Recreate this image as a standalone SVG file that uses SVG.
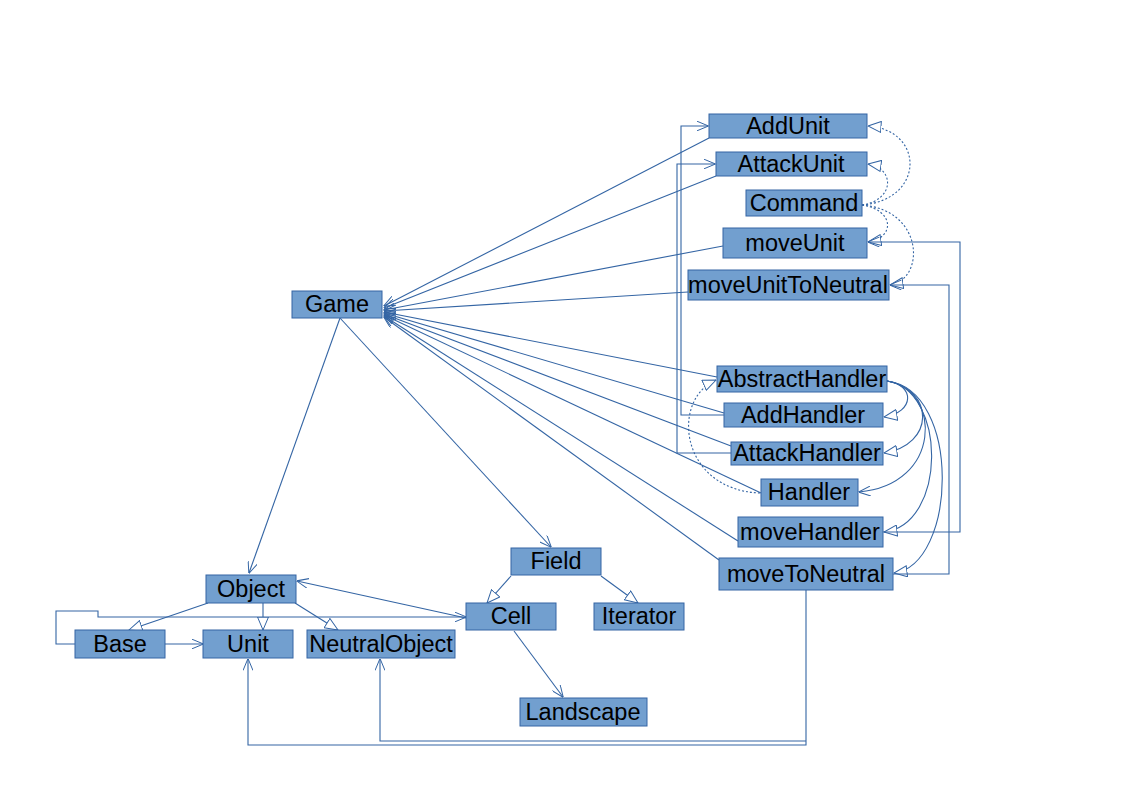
<svg xmlns="http://www.w3.org/2000/svg" width="1123" height="794" viewBox="0 0 1123 794">
<style>
.n rect{fill:#729fcf;stroke:#3465a4;stroke-width:1}
.n text{font-family:"Liberation Sans",Arial,sans-serif;font-size:23.5px;fill:#000;text-anchor:middle}
#edges path{fill:none;stroke:#3465a4;stroke-width:1.1}
#edges .d{stroke-dasharray:2,2}
#edges .a{marker-end:url(#open)}
#edges .t{marker-end:url(#tri)}
</style>
<defs>
<marker id="open" viewBox="0 0 12 10" refX="11.5" refY="5" markerWidth="12" markerHeight="10" markerUnits="userSpaceOnUse" orient="auto">
<path d="M0,0 L12,5 L0,10" fill="none" stroke="#3465a4" stroke-width="1"/>
</marker>
<marker id="tri" viewBox="0 0 14 12" refX="13.5" refY="6" markerWidth="14" markerHeight="12" markerUnits="userSpaceOnUse" orient="auto">
<path d="M0.5,0.5 L13.5,6 L0.5,11.5 Z" fill="#fff" stroke="#3465a4" stroke-width="1"/>
</marker>
</defs>
<rect width="1123" height="794" fill="#fff"/>
<g id="edges">
<path class="a" d="M709,138 L384,306"/>
<path class="a" d="M716,176 L384,308"/>
<path class="a" d="M723,246 L384,310"/>
<path class="a" d="M688,292 L384,311"/>
<path class="a" d="M717,377 L384,312"/>
<path class="a" d="M724,413 L384,313"/>
<path class="a" d="M731,446 L384,314"/>
<path class="a" d="M761,493 L384,315"/>
<path class="a" d="M738,541 L384,316"/>
<path class="a" d="M719,560 L384,317"/>
<path class="a" d="M340,318 L249,573"/>
<path class="a" d="M340,318 L551,547"/>
<path class="d t" d="M862,205 C925,200 925,130 868,126"/>
<path class="d t" d="M862,205 C895,200 895,168 868,164"/>
<path class="d t" d="M862,205 C895,210 895,238 868,242"/>
<path class="d t" d="M862,205 C925,210 925,280 890,285"/>
<path class="t" d="M887,381 C915,385 915,412 884,417"/>
<path class="t" d="M887,381 C935,390 935,445 884,453"/>
<path class="a" d="M887,381 C942,390 942,485 859,492"/>
<path class="t" d="M887,381 C947,390 947,525 884,532"/>
<path class="t" d="M887,381 C962,390 957,565 894,573"/>
<path class="d t" d="M760,493 C680,490 670,400 716,380"/>
<path class="a" d="M724,415 H681 V126 H708"/>
<path class="a" d="M731,453 H677 V164 H715"/>
<path class="a" d="M883,532 H960 V242 H868"/>
<path class="a" d="M893,574 H949 V285 H890"/>
<path class="a" d="M806,590 V745 H248 V659"/>
<path class="a" d="M806,741 H380 V659"/>
<path class="t" d="M208,603 L129,630"/>
<path class="t" d="M263,603 V630"/>
<path class="t" d="M295,603 L338,630"/>
<path class="a" d="M466,618 L297,581"/>
<path class="a" d="M75,644 H56 V611 H98 V617 H466"/>
<path class="a" d="M165,644 H203"/>
<path class="t" d="M511,576 L487,603"/>
<path class="t" d="M601,576 L638,603"/>
<path class="a" d="M514,631 L563,697"/>
</g>
<g id="AddUnit" class="n"><rect x="709" y="114" width="158" height="24"/><text x="788" y="134">AddUnit</text></g>
<g id="AttackUnit" class="n"><rect x="716" y="152" width="151" height="24"/><text x="791" y="172">AttackUnit</text></g>
<g id="Command" class="n"><rect x="746" y="190" width="116" height="26"/><text x="804" y="211">Command</text></g>
<g id="moveUnit" class="n"><rect x="723" y="228" width="144" height="30"/><text x="795" y="251">moveUnit</text></g>
<g id="moveUnitToNeutral" class="n"><rect x="688" y="270" width="201" height="30"/><text x="788" y="293">moveUnitToNeutral</text></g>
<g id="Game" class="n"><rect x="292" y="291" width="90" height="27"/><text x="337" y="312">Game</text></g>
<g id="AbstractHandler" class="n"><rect x="717" y="366" width="170" height="26"/><text x="802" y="387">AbstractHandler</text></g>
<g id="AddHandler" class="n"><rect x="724" y="403" width="159" height="24"/><text x="803" y="423">AddHandler</text></g>
<g id="AttackHandler" class="n"><rect x="731" y="442" width="152" height="23"/><text x="807" y="461">AttackHandler</text></g>
<g id="Handler" class="n"><rect x="761" y="479" width="97" height="27"/><text x="809" y="500">Handler</text></g>
<g id="moveHandler" class="n"><rect x="738" y="517" width="145" height="30"/><text x="810" y="540">moveHandler</text></g>
<g id="moveToNeutral" class="n"><rect x="719" y="558" width="174" height="32"/><text x="806" y="582">moveToNeutral</text></g>
<g id="Field" class="n"><rect x="511" y="548" width="90" height="27"/><text x="556" y="569">Field</text></g>
<g id="Object" class="n"><rect x="206" y="575" width="90" height="28"/><text x="251" y="597">Object</text></g>
<g id="Cell" class="n"><rect x="466" y="603" width="90" height="27"/><text x="511" y="624">Cell</text></g>
<g id="Iterator" class="n"><rect x="594" y="603" width="90" height="27"/><text x="639" y="624">Iterator</text></g>
<g id="Base" class="n"><rect x="75" y="630" width="90" height="28"/><text x="120" y="652">Base</text></g>
<g id="Unit" class="n"><rect x="203" y="630" width="90" height="28"/><text x="248" y="652">Unit</text></g>
<g id="NeutralObject" class="n"><rect x="307" y="630" width="148" height="28"/><text x="381" y="652">NeutralObject</text></g>
<g id="Landscape" class="n"><rect x="520" y="698" width="127" height="28"/><text x="583" y="720">Landscape</text></g>
</svg>
